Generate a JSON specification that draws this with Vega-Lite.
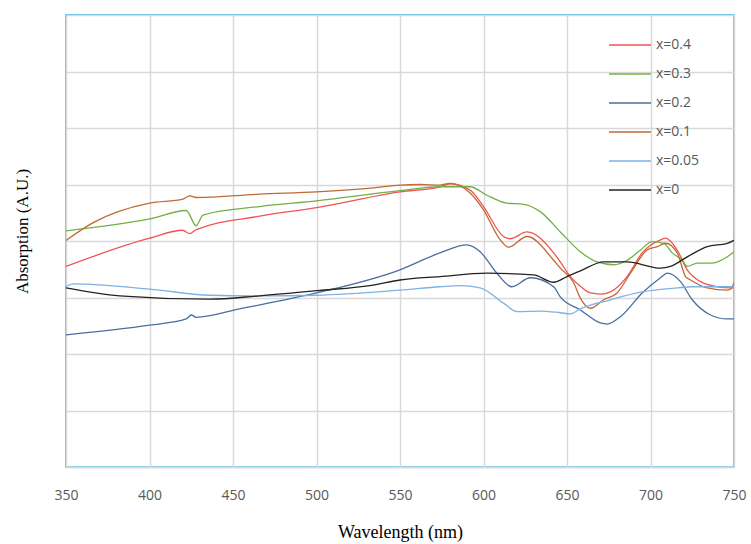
{
  "$schema": "https://vega.github.io/schema/vega-lite/v6.json",
  "autosize": "none",
  "width": 668,
  "height": 452,
  "padding": {"left": 66, "top": 15, "right": 17, "bottom": 77},
  "background": "white",
  "config": {
    "view": {"stroke": "#29B2EC", "strokeWidth": 1.5},
    "axis": {"gridColor": "#D9D9D9", "gridWidth": 1.5, "domainColor": "#D9D9D9", "domainWidth": 1.5}
  },
  "data": {"values": [
    {"wl":350,"a":3.55,"s":"x=0.4"},{"wl":400,"a":4.05,"s":"x=0.4"},{"wl":420,"a":4.19,"s":"x=0.4"},{"wl":424,"a":4.13,"s":"x=0.4"},{"wl":428,"a":4.2,"s":"x=0.4"},{"wl":466,"a":4.44,"s":"x=0.4"},{"wl":500,"a":4.59,"s":"x=0.4"},{"wl":550,"a":4.87,"s":"x=0.4"},{"wl":574,"a":4.96,"s":"x=0.4"},{"wl":580,"a":5.01,"s":"x=0.4"},{"wl":592,"a":4.9,"s":"x=0.4"},{"wl":600,"a":4.61,"s":"x=0.4"},{"wl":612,"a":4.08,"s":"x=0.4"},{"wl":616,"a":4.04,"s":"x=0.4"},{"wl":626,"a":4.16,"s":"x=0.4"},{"wl":642,"a":3.79,"s":"x=0.4"},{"wl":646,"a":3.63,"s":"x=0.4"},{"wl":652,"a":3.37,"s":"x=0.4"},{"wl":658,"a":3.2,"s":"x=0.4"},{"wl":664,"a":3.08,"s":"x=0.4"},{"wl":670,"a":3.06,"s":"x=0.4"},{"wl":676,"a":3.1,"s":"x=0.4"},{"wl":686,"a":3.37,"s":"x=0.4"},{"wl":695,"a":3.79,"s":"x=0.4"},{"wl":706,"a":4.02,"s":"x=0.4"},{"wl":709,"a":4.05,"s":"x=0.4"},{"wl":716,"a":3.84,"s":"x=0.4"},{"wl":722,"a":3.49,"s":"x=0.4"},{"wl":730,"a":3.28,"s":"x=0.4"},{"wl":740,"a":3.19,"s":"x=0.4"},{"wl":748,"a":3.17,"s":"x=0.4"},{"wl":750,"a":3.26,"s":"x=0.4"},

    {"wl":350,"a":4.18,"s":"x=0.3"},{"wl":400,"a":4.39,"s":"x=0.3"},{"wl":422,"a":4.54,"s":"x=0.3"},{"wl":428,"a":4.27,"s":"x=0.3"},{"wl":432,"a":4.46,"s":"x=0.3"},{"wl":466,"a":4.61,"s":"x=0.3"},{"wl":500,"a":4.71,"s":"x=0.3"},{"wl":550,"a":4.89,"s":"x=0.3"},{"wl":574,"a":4.96,"s":"x=0.3"},{"wl":592,"a":4.96,"s":"x=0.3"},{"wl":602,"a":4.81,"s":"x=0.3"},{"wl":614,"a":4.67,"s":"x=0.3"},{"wl":624,"a":4.65,"s":"x=0.3"},{"wl":634,"a":4.52,"s":"x=0.3"},{"wl":646,"a":4.16,"s":"x=0.3"},{"wl":658,"a":3.81,"s":"x=0.3"},{"wl":668,"a":3.63,"s":"x=0.3"},{"wl":678,"a":3.58,"s":"x=0.3"},{"wl":686,"a":3.66,"s":"x=0.3"},{"wl":694,"a":3.84,"s":"x=0.3"},{"wl":701,"a":3.99,"s":"x=0.3"},{"wl":708,"a":3.96,"s":"x=0.3"},{"wl":713,"a":3.79,"s":"x=0.3"},{"wl":719,"a":3.66,"s":"x=0.3"},{"wl":722,"a":3.55,"s":"x=0.3"},{"wl":728,"a":3.61,"s":"x=0.3"},{"wl":737,"a":3.61,"s":"x=0.3"},{"wl":746,"a":3.72,"s":"x=0.3"},{"wl":750,"a":3.81,"s":"x=0.3"},

    {"wl":350,"a":2.34,"s":"x=0.2"},{"wl":400,"a":2.51,"s":"x=0.2"},{"wl":422,"a":2.62,"s":"x=0.2"},{"wl":425,"a":2.69,"s":"x=0.2"},{"wl":428,"a":2.65,"s":"x=0.2"},{"wl":454,"a":2.8,"s":"x=0.2"},{"wl":500,"a":3.08,"s":"x=0.2"},{"wl":550,"a":3.49,"s":"x=0.2"},{"wl":574,"a":3.79,"s":"x=0.2"},{"wl":590,"a":3.93,"s":"x=0.2"},{"wl":598,"a":3.81,"s":"x=0.2"},{"wl":608,"a":3.43,"s":"x=0.2"},{"wl":617,"a":3.19,"s":"x=0.2"},{"wl":628,"a":3.35,"s":"x=0.2"},{"wl":642,"a":3.19,"s":"x=0.2"},{"wl":646,"a":3.01,"s":"x=0.2"},{"wl":658,"a":2.78,"s":"x=0.2"},{"wl":670,"a":2.55,"s":"x=0.2"},{"wl":674,"a":2.53,"s":"x=0.2"},{"wl":682,"a":2.66,"s":"x=0.2"},{"wl":695,"a":3.08,"s":"x=0.2"},{"wl":706,"a":3.35,"s":"x=0.2"},{"wl":710,"a":3.43,"s":"x=0.2"},{"wl":718,"a":3.28,"s":"x=0.2"},{"wl":725,"a":2.96,"s":"x=0.2"},{"wl":736,"a":2.69,"s":"x=0.2"},{"wl":746,"a":2.62,"s":"x=0.2"},{"wl":750,"a":2.62,"s":"x=0.2"},

    {"wl":350,"a":4.01,"s":"x=0.1"},{"wl":366,"a":4.32,"s":"x=0.1"},{"wl":400,"a":4.67,"s":"x=0.1"},{"wl":420,"a":4.74,"s":"x=0.1"},{"wl":424,"a":4.8,"s":"x=0.1"},{"wl":428,"a":4.77,"s":"x=0.1"},{"wl":466,"a":4.83,"s":"x=0.1"},{"wl":500,"a":4.87,"s":"x=0.1"},{"wl":534,"a":4.94,"s":"x=0.1"},{"wl":550,"a":4.99,"s":"x=0.1"},{"wl":562,"a":5.0,"s":"x=0.1"},{"wl":574,"a":4.99,"s":"x=0.1"},{"wl":580,"a":5.02,"s":"x=0.1"},{"wl":592,"a":4.85,"s":"x=0.1"},{"wl":600,"a":4.55,"s":"x=0.1"},{"wl":610,"a":4.02,"s":"x=0.1"},{"wl":615,"a":3.89,"s":"x=0.1"},{"wl":626,"a":4.08,"s":"x=0.1"},{"wl":642,"a":3.66,"s":"x=0.1"},{"wl":646,"a":3.52,"s":"x=0.1"},{"wl":654,"a":3.26,"s":"x=0.1"},{"wl":658,"a":2.99,"s":"x=0.1"},{"wl":664,"a":2.81,"s":"x=0.1"},{"wl":672,"a":2.96,"s":"x=0.1"},{"wl":680,"a":3.08,"s":"x=0.1"},{"wl":688,"a":3.43,"s":"x=0.1"},{"wl":698,"a":3.84,"s":"x=0.1"},{"wl":704,"a":3.9,"s":"x=0.1"},{"wl":709,"a":3.96,"s":"x=0.1"},{"wl":716,"a":3.79,"s":"x=0.1"},{"wl":721,"a":3.37,"s":"x=0.1"},{"wl":724,"a":3.31,"s":"x=0.1"},{"wl":734,"a":3.17,"s":"x=0.1"},{"wl":746,"a":3.13,"s":"x=0.1"},{"wl":750,"a":3.19,"s":"x=0.1"},

    {"wl":350,"a":3.19,"s":"x=0.05"},{"wl":354,"a":3.24,"s":"x=0.05"},{"wl":400,"a":3.15,"s":"x=0.05"},{"wl":436,"a":3.04,"s":"x=0.05"},{"wl":466,"a":3.03,"s":"x=0.05"},{"wl":500,"a":3.04,"s":"x=0.05"},{"wl":550,"a":3.13,"s":"x=0.05"},{"wl":574,"a":3.19,"s":"x=0.05"},{"wl":586,"a":3.21,"s":"x=0.05"},{"wl":598,"a":3.17,"s":"x=0.05"},{"wl":612,"a":2.9,"s":"x=0.05"},{"wl":620,"a":2.75,"s":"x=0.05"},{"wl":634,"a":2.76,"s":"x=0.05"},{"wl":646,"a":2.73,"s":"x=0.05"},{"wl":652,"a":2.71,"s":"x=0.05"},{"wl":658,"a":2.8,"s":"x=0.05"},{"wl":676,"a":2.96,"s":"x=0.05"},{"wl":695,"a":3.1,"s":"x=0.05"},{"wl":716,"a":3.17,"s":"x=0.05"},{"wl":725,"a":3.19,"s":"x=0.05"},{"wl":750,"a":3.19,"s":"x=0.05"},

    {"wl":350,"a":3.17,"s":"x=0"},{"wl":382,"a":3.03,"s":"x=0"},{"wl":436,"a":2.97,"s":"x=0"},{"wl":466,"a":3.03,"s":"x=0"},{"wl":500,"a":3.12,"s":"x=0"},{"wl":534,"a":3.22,"s":"x=0"},{"wl":550,"a":3.31,"s":"x=0"},{"wl":574,"a":3.37,"s":"x=0"},{"wl":602,"a":3.43,"s":"x=0"},{"wl":630,"a":3.4,"s":"x=0"},{"wl":642,"a":3.27,"s":"x=0"},{"wl":650,"a":3.37,"s":"x=0"},{"wl":658,"a":3.47,"s":"x=0"},{"wl":672,"a":3.63,"s":"x=0"},{"wl":686,"a":3.63,"s":"x=0"},{"wl":706,"a":3.52,"s":"x=0"},{"wl":712,"a":3.55,"s":"x=0"},{"wl":722,"a":3.72,"s":"x=0"},{"wl":734,"a":3.9,"s":"x=0"},{"wl":746,"a":3.96,"s":"x=0"},{"wl":750,"a":4.01,"s":"x=0"}
  ]},
  "mark": {"type": "line", "strokeWidth": 1.3, "interpolate": "monotone", "clip": true},
  "encoding": {
    "x": {
      "field": "wl", "type": "quantitative",
      "scale": {"domain": [350, 750], "nice": false},
      "axis": {
        "values": [350, 400, 450, 500, 550, 600, 650, 700, 750],
        "title": "Wavelength  (nm)",
        "titleFont": "Liberation Serif", "titleFontSize": 18, "titleFontWeight": "normal", "titleColor": "#000000", "titlePadding": 21,
        "labelFont": "Open Sans", "labelFontSize": 14, "labelColor": "#595959", "labelPadding": 21,
        "ticks": false, "labelFlush": false
      }
    },
    "y": {
      "field": "a", "type": "quantitative",
      "scale": {"domain": [0, 8], "nice": false},
      "axis": {
        "values": [0, 1, 2, 3, 4, 5, 6, 7, 8],
        "labels": false, "ticks": false, "domain": false,
        "title": "Absorption (A.U.)",
        "titleFont": "Liberation Serif", "titleFontSize": 17, "titleFontWeight": "normal", "titleColor": "#000000",
        "titlePadding": 35, "titleY": 216
      }
    },
    "color": {
      "field": "s", "type": "nominal",
      "scale": {
        "domain": ["x=0.4", "x=0.3", "x=0.2", "x=0.1", "x=0.05", "x=0"],
        "range": ["#F05454", "#72B043", "#4A6E9E", "#BE6A36", "#7EB2E4", "#222222"]
      },
      "legend": {
        "orient": "none", "legendX": 542, "legendY": 8,
        "title": null,
        "symbolType": "stroke", "symbolSize": 1764, "symbolStrokeWidth": 1.5,
        "labelFont": "Open Sans", "labelFontSize": 14, "labelColor": "#595959", "labelOffset": 4,
        "rowPadding": -11
      }
    }
  }
}
